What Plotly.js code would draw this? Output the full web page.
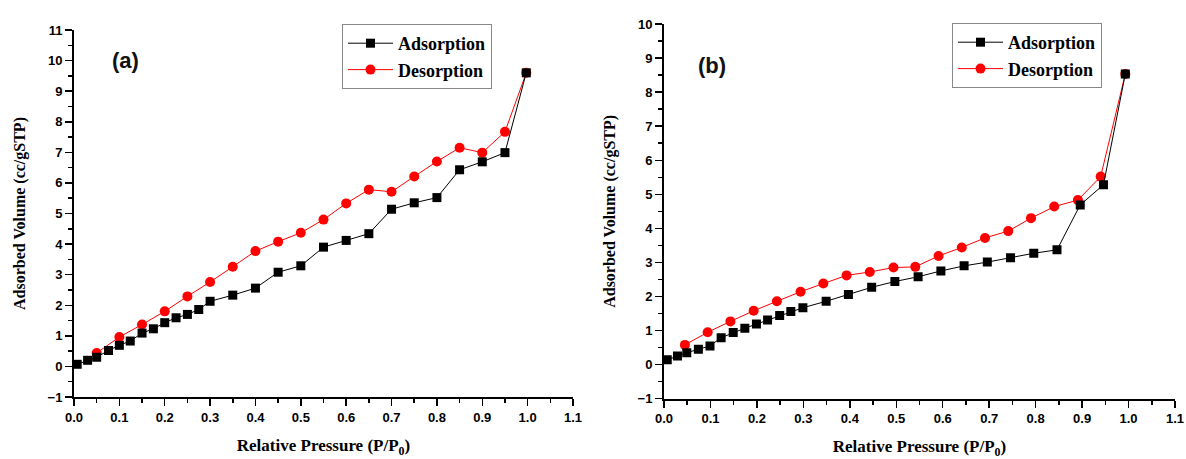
<!DOCTYPE html>
<html>
<head>
<meta charset="utf-8">
<script src="https://cdn.plot.ly/plotly-3.0.1.min.js"></script>
<style>html,body{margin:0;padding:0;background:#fff;}#chart{width:1186px;height:459px;}</style>
</head>
<body>
<div id="chart"></div>
<script>
// Panel (a)
const aAdsX = [0.007,0.03,0.05,0.076,0.1,0.124,0.15,0.175,0.2,0.225,0.25,0.275,0.3,0.35,0.4,0.45,0.5,0.55,0.6,0.65,0.7,0.75,0.8,0.85,0.9,0.95,0.997];
const aAdsY = [0.07,0.2,0.3,0.52,0.69,0.83,1.09,1.23,1.43,1.59,1.70,1.86,2.13,2.33,2.56,3.08,3.29,3.90,4.12,4.34,5.14,5.35,5.52,6.43,6.69,6.99,9.60];
const aDesX = [0.05,0.1,0.15,0.2,0.25,0.3,0.35,0.4,0.45,0.5,0.55,0.6,0.65,0.7,0.75,0.8,0.85,0.9,0.95,0.997];
const aDesY = [0.44,0.96,1.37,1.80,2.29,2.76,3.26,3.77,4.08,4.37,4.80,5.33,5.78,5.71,6.21,6.70,7.15,6.99,7.67,9.60];
// Panel (b)
const bAdsX = [0.007,0.029,0.049,0.074,0.099,0.123,0.149,0.174,0.199,0.223,0.249,0.273,0.299,0.349,0.397,0.447,0.497,0.547,0.596,0.646,0.696,0.746,0.796,0.846,0.896,0.946,0.993];
const bAdsY = [0.14,0.25,0.35,0.45,0.55,0.79,0.94,1.07,1.19,1.31,1.44,1.56,1.67,1.86,2.06,2.27,2.44,2.58,2.75,2.90,3.01,3.14,3.27,3.37,4.69,5.28,8.53];
const bDesX = [0.045,0.094,0.143,0.193,0.243,0.294,0.343,0.393,0.443,0.494,0.541,0.591,0.641,0.691,0.741,0.79,0.84,0.891,0.94,0.993];
const bDesY = [0.58,0.95,1.27,1.58,1.86,2.14,2.38,2.62,2.72,2.85,2.87,3.19,3.44,3.72,3.92,4.30,4.64,4.83,5.52,8.53];

const serif = "Liberation Serif, Times New Roman, serif";
const sans = "Liberation Sans, Arial, sans-serif";

function tr(x, y, name, color, sym, xa, ya, leg, rank) {
  return {x, y, name, type: 'scatter', mode: 'lines+markers', xaxis: xa, yaxis: ya, legend: leg, legendrank: rank,
    line: {color: color, width: 1}, marker: {symbol: sym, size: sym === 'square' ? 9 : 10, color: color}};
}
// Desorption drawn first so the adsorption squares sit on top
const traces = [
  tr(aDesX, aDesY, 'Desorption', '#ff0000', 'circle', 'x', 'y', 'legend', 2),
  tr(aAdsX, aAdsY, 'Adsorption', '#000000', 'square', 'x', 'y', 'legend', 1),
  tr(bDesX, bDesY, 'Desorption', '#ff0000', 'circle', 'x2', 'y2', 'legend2', 2),
  tr(bAdsX, bAdsY, 'Adsorption', '#000000', 'square', 'x2', 'y2', 'legend2', 1)
];

function xax(domain, anchor) {
  return {domain, anchor, range: [0, 1.1], dtick: 0.1, tick0: 0, tickformat: '.1f',
    showgrid: false, zeroline: false, showline: true, linecolor: '#000', linewidth: 2,
    ticks: 'outside', ticklen: 7, tickwidth: 1.5, tickcolor: '#000',
    minor: {dtick: 0.05, ticks: 'outside', ticklen: 4, tickwidth: 1.5, tickcolor: '#000'},
    tickfont: {family: sans, size: 13, color: '#000', weight: 'bold'},
    title: {text: 'Relative Pressure (P/P<sub>0</sub>)', font: {family: serif, size: 17, color: '#000', weight: 'bold'}, standoff: 16}};
}
function yax(domain, anchor, top) {
  return {domain, anchor, range: [-1, top], dtick: 1, tick0: 0,
    showgrid: false, zeroline: false, showline: true, linecolor: '#000', linewidth: 2,
    ticks: 'outside', ticklen: 7, tickwidth: 1.5, tickcolor: '#000',
    minor: {dtick: 0.5, ticks: 'outside', ticklen: 4, tickwidth: 1.5, tickcolor: '#000'},
    tickfont: {family: sans, size: 13, color: '#000', weight: 'bold'},
    title: {text: 'Adsorbed Volume (cc/gSTP)', font: {family: serif, size: 16, color: '#000', weight: 'bold'}, standoff: 18}};
}
const legStyle = {bgcolor: 'rgba(255,255,255,1)', bordercolor: '#888', borderwidth: 1,
  font: {family: serif, size: 18, color: '#000', weight: 'bold'}, xanchor: 'left', yanchor: 'top',
  traceorder: 'normal', tracegroupgap: 0, itemwidth: 45};

const layout = {
  width: 1186, height: 459, margin: {l: 0, r: 0, t: 0, b: 0},
  paper_bgcolor: '#fff', plot_bgcolor: '#fff', showlegend: true,
  xaxis: xax([74/1186, 573/1186], 'y'),
  yaxis: yax([62/459, 429/459], 'x', 11),
  xaxis2: xax([664/1186, 1175/1186], 'y2'),
  yaxis2: yax([60.3/459, 435/459], 'x2', 10),
  legend: Object.assign({x: 342/1186, y: 1 - 24/459}, legStyle),
  legend2: Object.assign({x: 952/1186, y: 1 - 23/459}, legStyle),
  annotations: [
    {text: '(a)', xref: 'paper', yref: 'paper', x: 110/1186, y: 1 - 46/459, showarrow: false,
     font: {family: sans, size: 22, color: '#111', weight: 'bold'}},
    {text: '(b)', xref: 'paper', yref: 'paper', x: 712/1186, y: 1 - 51/459, showarrow: false,
     font: {family: sans, size: 22, color: '#111', weight: 'bold'}}
  ]
};
Plotly.newPlot('chart', traces, layout, {displayModeBar: false, staticPlot: true});
</script>
</body>
</html>
